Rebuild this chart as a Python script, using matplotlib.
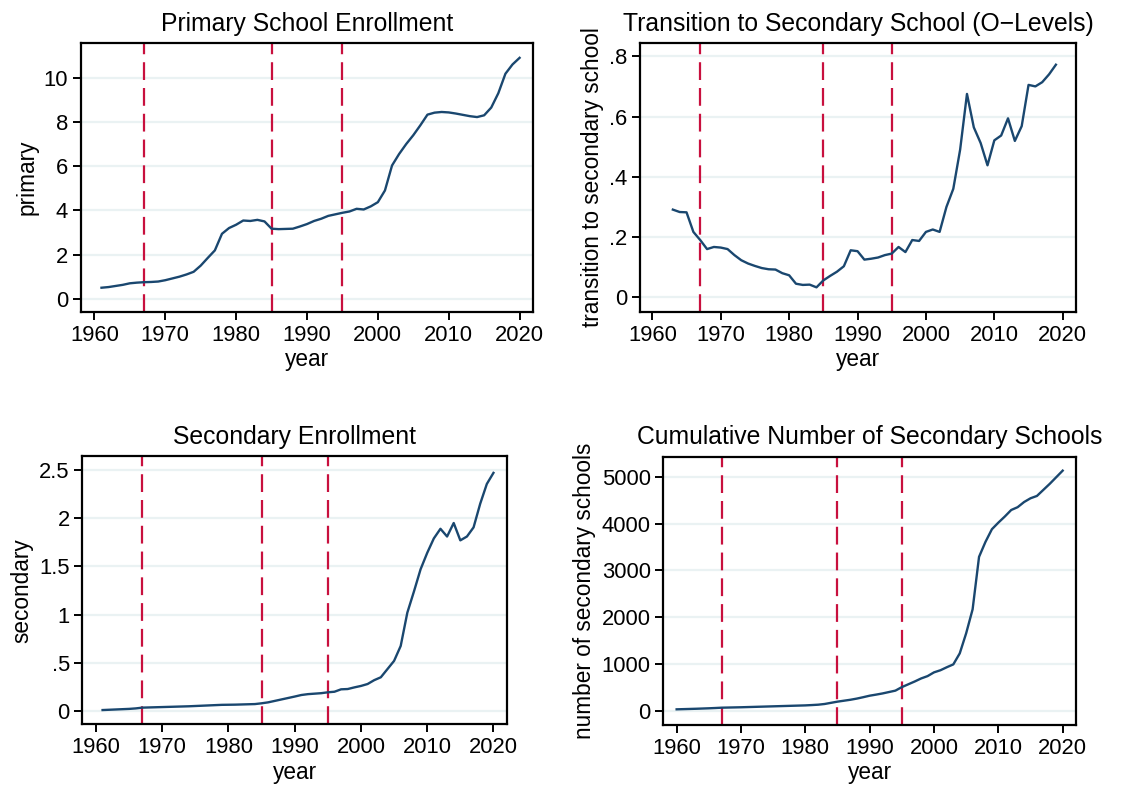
import matplotlib
matplotlib.use('Agg')
import matplotlib.pyplot as plt
import numpy as np

plt.rcParams['font.family'] = ['Liberation Sans', 'DejaVu Sans']

navy = '#1a476f'
red = '#c8103e'
grid_col = '#eaf2f3'
breaks = [1967, 1985, 1995]

# primary school enrollment
years_p = np.arange(1961, 2021)
primary = [0.50, 0.53, 0.58, 0.63, 0.70, 0.73, 0.75, 0.76, 0.78, 0.84,
           0.92, 1.00, 1.10, 1.22, 1.50, 1.85, 2.19, 2.94, 3.20, 3.35,
           3.54, 3.52, 3.57, 3.50, 3.17, 3.15, 3.16, 3.17, 3.27, 3.38,
           3.52, 3.62, 3.75, 3.82, 3.89, 3.95, 4.07, 4.04, 4.18, 4.37,
           4.90, 6.03, 6.55, 7.00, 7.40, 7.85, 8.33, 8.42, 8.45, 8.43,
           8.38, 8.32, 8.26, 8.22, 8.30, 8.65, 9.30, 10.18, 10.60, 10.90]

# transition to secondary school
years_t = np.arange(1963, 2020)
transition = [0.291, 0.283, 0.282, 0.217, 0.190, 0.160, 0.167, 0.165, 0.160, 0.140,
              0.123, 0.112, 0.104, 0.097, 0.093, 0.092, 0.080, 0.073, 0.045, 0.041,
              0.042, 0.033, 0.056, 0.071, 0.085, 0.103, 0.156, 0.153, 0.125, 0.128,
              0.132, 0.140, 0.145, 0.167, 0.150, 0.190, 0.187, 0.217, 0.225, 0.217,
              0.300, 0.360, 0.490, 0.675, 0.564, 0.512, 0.438, 0.521, 0.537, 0.594,
              0.519, 0.568, 0.705, 0.700, 0.714, 0.740, 0.772]

# secondary enrollment
years_s = np.arange(1961, 2021)
secondary = [0.010, 0.013, 0.016, 0.019, 0.022, 0.027, 0.035, 0.037, 0.039, 0.041,
             0.043, 0.045, 0.047, 0.049, 0.052, 0.055, 0.058, 0.061, 0.064, 0.065,
             0.066, 0.068, 0.070, 0.072, 0.080, 0.090, 0.105, 0.120, 0.135, 0.150,
             0.166, 0.175, 0.180, 0.185, 0.194, 0.200, 0.225, 0.228, 0.245, 0.260,
             0.280, 0.320, 0.350, 0.435, 0.520, 0.675, 1.020, 1.240, 1.470, 1.640,
             1.790, 1.890, 1.810, 1.950, 1.770, 1.810, 1.905, 2.150, 2.355, 2.470]

# cumulative number of secondary schools
years_c = np.arange(1960, 2021)
schools = [36, 40, 44, 48, 53, 58, 64, 71, 74, 77,
           80, 84, 88, 92, 96, 100, 104, 108, 112, 116,
           120, 127, 135, 150, 175, 200, 220, 240, 265, 295,
           327, 350, 375, 405, 435, 510, 570, 630, 695, 745,
           825, 870, 935, 995, 1230, 1660, 2170, 3290, 3610, 3880,
           4020, 4150, 4290, 4350, 4460, 4540, 4590, 4720, 4850, 4990,
           5130]

panels = [
    dict(x=years_p, y=primary, title='Primary School Enrollment', ylabel='primary',
         yticks=[0, 2, 4, 6, 8, 10], ylabels=['0', '2', '4', '6', '8', '10'],
         ylim=(-0.6, 11.57), xlim=(1958.07, 2021.9),
         pos=[0.0717, 0.6025, 0.4017, 0.3427]),
    dict(x=years_t, y=transition, title='Transition to Secondary School (O\u2212Levels)',
         ylabel='transition to secondary school',
         yticks=[0, 0.2, 0.4, 0.6, 0.8], ylabels=['0', '.2', '.4', '.6', '.8'],
         ylim=(-0.049, 0.844), xlim=(1958.2, 2021.94),
         pos=[0.5684, 0.6025, 0.3872, 0.3427]),
    dict(x=years_s, y=secondary, title='Secondary Enrollment', ylabel='secondary',
         yticks=[0, 0.5, 1, 1.5, 2, 2.5], ylabels=['0', '.5', '1', '1.5', '2', '2.5'],
         ylim=(-0.138, 2.645), xlim=(1957.94, 2022.0),
         pos=[0.0731, 0.0773, 0.3769, 0.3418]),
    dict(x=years_c, y=schools, title='Cumulative Number of Secondary Schools',
         ylabel='number of secondary schools',
         yticks=[0, 1000, 2000, 3000, 4000, 5000],
         ylabels=['0', '1000', '2000', '3000', '4000', '5000'],
         ylim=(-299, 5427), xlim=(1957.93, 2022.07),
         pos=[0.5891, 0.0764, 0.3665, 0.3418]),
]

fig = plt.figure(figsize=(11.26, 7.85), dpi=100)

for p in panels:
    ax = fig.add_axes(p['pos'])
    for yt in p['yticks']:
        ax.axhline(yt, color=grid_col, lw=1.6, zorder=0)
    for b in breaks:
        ax.axvline(b, color=red, lw=1.6, dashes=(8.0, 3.6), zorder=2)
    ax.plot(p['x'], p['y'], color=navy, lw=1.7, zorder=3)
    ax.set_xlim(p['xlim'])
    ax.set_ylim(p['ylim'])
    ax.set_xticks(range(1960, 2021, 10))
    ax.set_yticks(p['yticks'])
    ax.set_yticklabels(p['ylabels'])
    ax.tick_params(labelsize=15.8, length=6, width=1.4, colors='black', pad=3)
    ax.set_title(p['title'], fontsize=17.8, pad=9)
    ax.set_xlabel('year', fontsize=16.3, labelpad=2)
    ax.set_ylabel(p['ylabel'], fontsize=16.3, labelpad=4)
    for s in ax.spines.values():
        s.set_linewidth(1.6)

fig.savefig('out.png', dpi=100)
